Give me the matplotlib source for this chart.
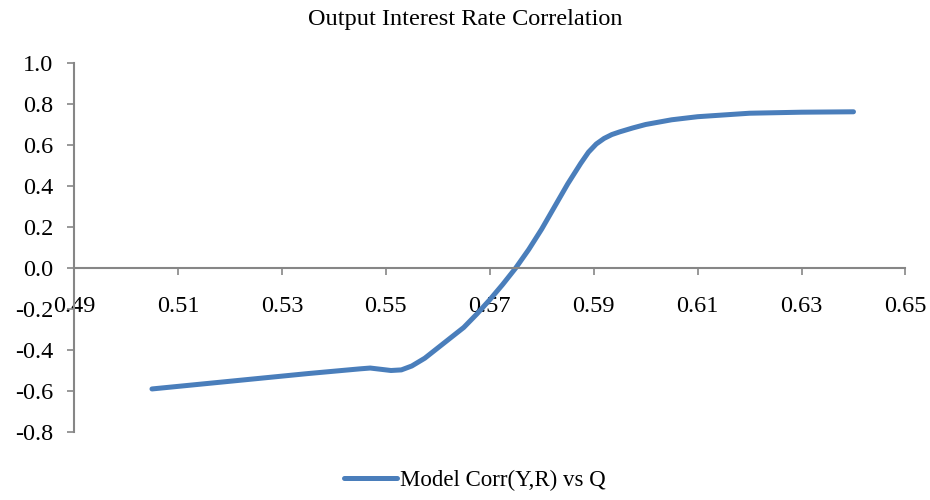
import matplotlib
matplotlib.use('Agg')
import matplotlib.pyplot as plt

plt.rcParams['font.family'] = ['Liberation Serif', 'DejaVu Serif']

# Q values and model correlation
q = [0.505, 0.515, 0.525, 0.535, 0.545, 0.547, 0.549, 0.551, 0.553, 0.555,
     0.5575, 0.560, 0.5625, 0.565, 0.5675, 0.570, 0.5725, 0.575, 0.5775,
     0.580, 0.5825, 0.585, 0.5875, 0.589, 0.5905, 0.592, 0.5935, 0.595,
     0.5975, 0.600, 0.605, 0.610, 0.620, 0.630, 0.640]
corr = [-0.59, -0.565, -0.54, -0.515, -0.492, -0.488, -0.494, -0.50, -0.497, -0.478,
        -0.44, -0.39, -0.34, -0.29, -0.225, -0.155, -0.08, 0.00, 0.09,
        0.19, 0.30, 0.41, 0.51, 0.565, 0.605, 0.632, 0.651, 0.664,
        0.683, 0.70, 0.723, 0.738, 0.755, 0.760, 0.762]
xticks = [0.49, 0.51, 0.53, 0.55, 0.57, 0.59, 0.61, 0.63, 0.65]
yticks = [-0.8, -0.6, -0.4, -0.2, 0.0, 0.2, 0.4, 0.6, 0.8, 1.0]

fig = plt.figure(figsize=(9.3, 5), dpi=100)
ax = fig.add_axes([0.0796, 0.136, 0.894, 0.738])

ax.plot(q, corr, color='#4a7ebb', lw=3.6, solid_capstyle='round',
        solid_joinstyle='round', label='Model Corr(Y,R) vs Q')

ax.set_xlim(0.49, 0.65)
ax.set_ylim(-0.8, 1.0)
ax.set_xticks(xticks)
ax.set_xticklabels([f'{v:.2f}' for v in xticks])
ax.set_yticks(yticks)
ax.set_yticklabels([f'{v:.1f}' for v in yticks])

for s in ['top', 'right']:
    ax.spines[s].set_visible(False)
ax.spines['bottom'].set_position(('data', 0))
ax.spines['left'].set_position(('data', 0.49))
for s in ['left', 'bottom']:
    ax.spines[s].set_color('#868686')
    ax.spines[s].set_linewidth(1.5)

ax.tick_params(axis='both', colors='#868686', labelcolor='black',
               labelsize=17.5, length=5, width=1.2, direction='out')
ax.tick_params(axis='x', pad=15)
ax.tick_params(axis='y', pad=10)

fig.text(0.5, 0.962, 'Output Interest Rate Correlation', ha='center',
         va='center', fontsize=17.5)

fig.legend(loc='center', bbox_to_anchor=(0.511, 0.04), frameon=False,
           fontsize=16.5, handlelength=2.3, handletextpad=0.15)

fig.savefig('out.png', dpi=100)
